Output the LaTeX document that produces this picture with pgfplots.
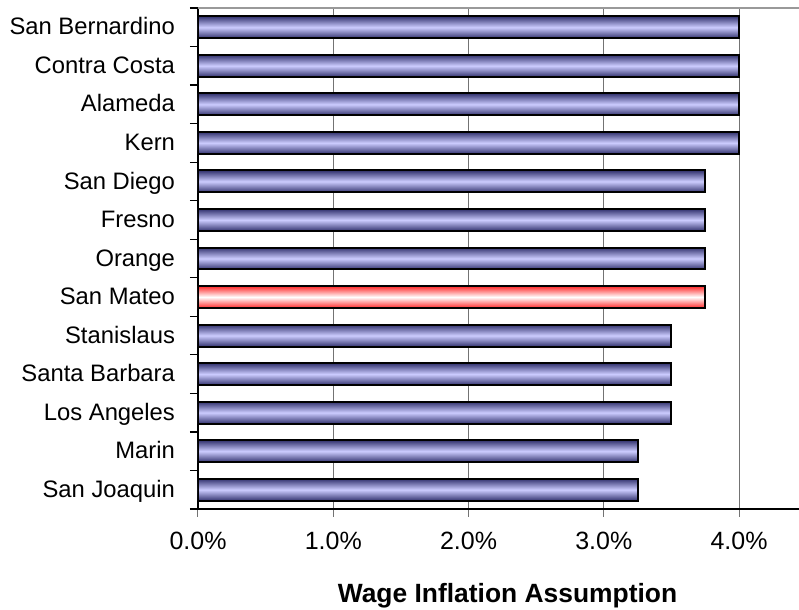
\documentclass[border=0pt]{standalone}
\usepackage{pgfplots}
\pgfplotsset{compat=1.18}
\usepackage{fontspec}
\setmainfont{Liberation Sans}
\usetikzlibrary{calc}
\definecolor{bdark}{RGB}{50,50,110}
\definecolor{blight}{RGB}{204,204,255}
\definecolor{rdark}{RGB}{255,40,40}
\begin{document}
\begin{tikzpicture}
\begin{axis}[
  scale only axis,
  width=300.5pt, height=250.5pt,
  xmin=0, xmax=4.443,
  ymin=-0.5, ymax=12.5,
  axis lines*=left,
  axis line style={black, line width=0.9pt},
  xtick={0,1,2,3,4},
  xticklabel={\pgfmathprintnumber[fixed,fixed zerofill,precision=1]{\tick}\%},
  /pgf/number format/assume math mode=true,
  xmajorgrids,
  major x grid style={black!55, line width=0.5pt},
  tick align=outside,
  x tick style={black!55, line width=0.5pt},
  major tick length=4pt,
  ytick={-0.5,0.5,...,12.5},
  y tick label as interval,
  yticklabels={San Joaquin,Marin,Los Angeles,Santa Barbara,Stanislaus,San Mateo,Orange,Fresno,San Diego,Kern,Alameda,Contra Costa,San Bernardino},
  y tick style={black, line width=0.6pt},
  typeset ticklabels with strut,
  xticklabel style={font=\fontsize{12.5}{15}\selectfont, yshift=-4pt},
  yticklabel style={font=\fontsize{11.9}{14}\selectfont, xshift=-4pt, yshift=-1pt},
  xlabel={Wage Inflation Assumption},
  xlabel style={font=\fontsize{13.2}{15}\selectfont\bfseries, yshift=-10pt, xshift=4.5pt},
  xbar, bar shift=0pt, bar width=0.57,
  every axis plot/.append style={draw=black, line width=1pt},
  after end axis/.code={\draw[black!40, line width=0.8pt] (rel axis cs:0,1) -- (rel axis cs:1,1);},
]
\addplot[top color=bdark, bottom color=bdark, middle color=blight] coordinates {(3.25,0)};
\addplot[top color=bdark, bottom color=bdark, middle color=blight] coordinates {(3.25,1)};
\addplot[top color=bdark, bottom color=bdark, middle color=blight] coordinates {(3.5,2)};
\addplot[top color=bdark, bottom color=bdark, middle color=blight] coordinates {(3.5,3)};
\addplot[top color=bdark, bottom color=bdark, middle color=blight] coordinates {(3.5,4)};
\addplot[top color=rdark, bottom color=rdark, middle color=white] coordinates {(3.75,5)};
\addplot[top color=bdark, bottom color=bdark, middle color=blight] coordinates {(3.75,6)};
\addplot[top color=bdark, bottom color=bdark, middle color=blight] coordinates {(3.75,7)};
\addplot[top color=bdark, bottom color=bdark, middle color=blight] coordinates {(3.75,8)};
\addplot[top color=bdark, bottom color=bdark, middle color=blight] coordinates {(4.0,9)};
\addplot[top color=bdark, bottom color=bdark, middle color=blight] coordinates {(4.0,10)};
\addplot[top color=bdark, bottom color=bdark, middle color=blight] coordinates {(4.0,11)};
\addplot[top color=bdark, bottom color=bdark, middle color=blight] coordinates {(4.0,12)};
\end{axis}
\pgfresetboundingbox
\path ($(current axis.south west)+(-99pt,-50.5pt)$) rectangle ($(current axis.north east)+(0pt,4pt)$);
\end{tikzpicture}
\end{document}
